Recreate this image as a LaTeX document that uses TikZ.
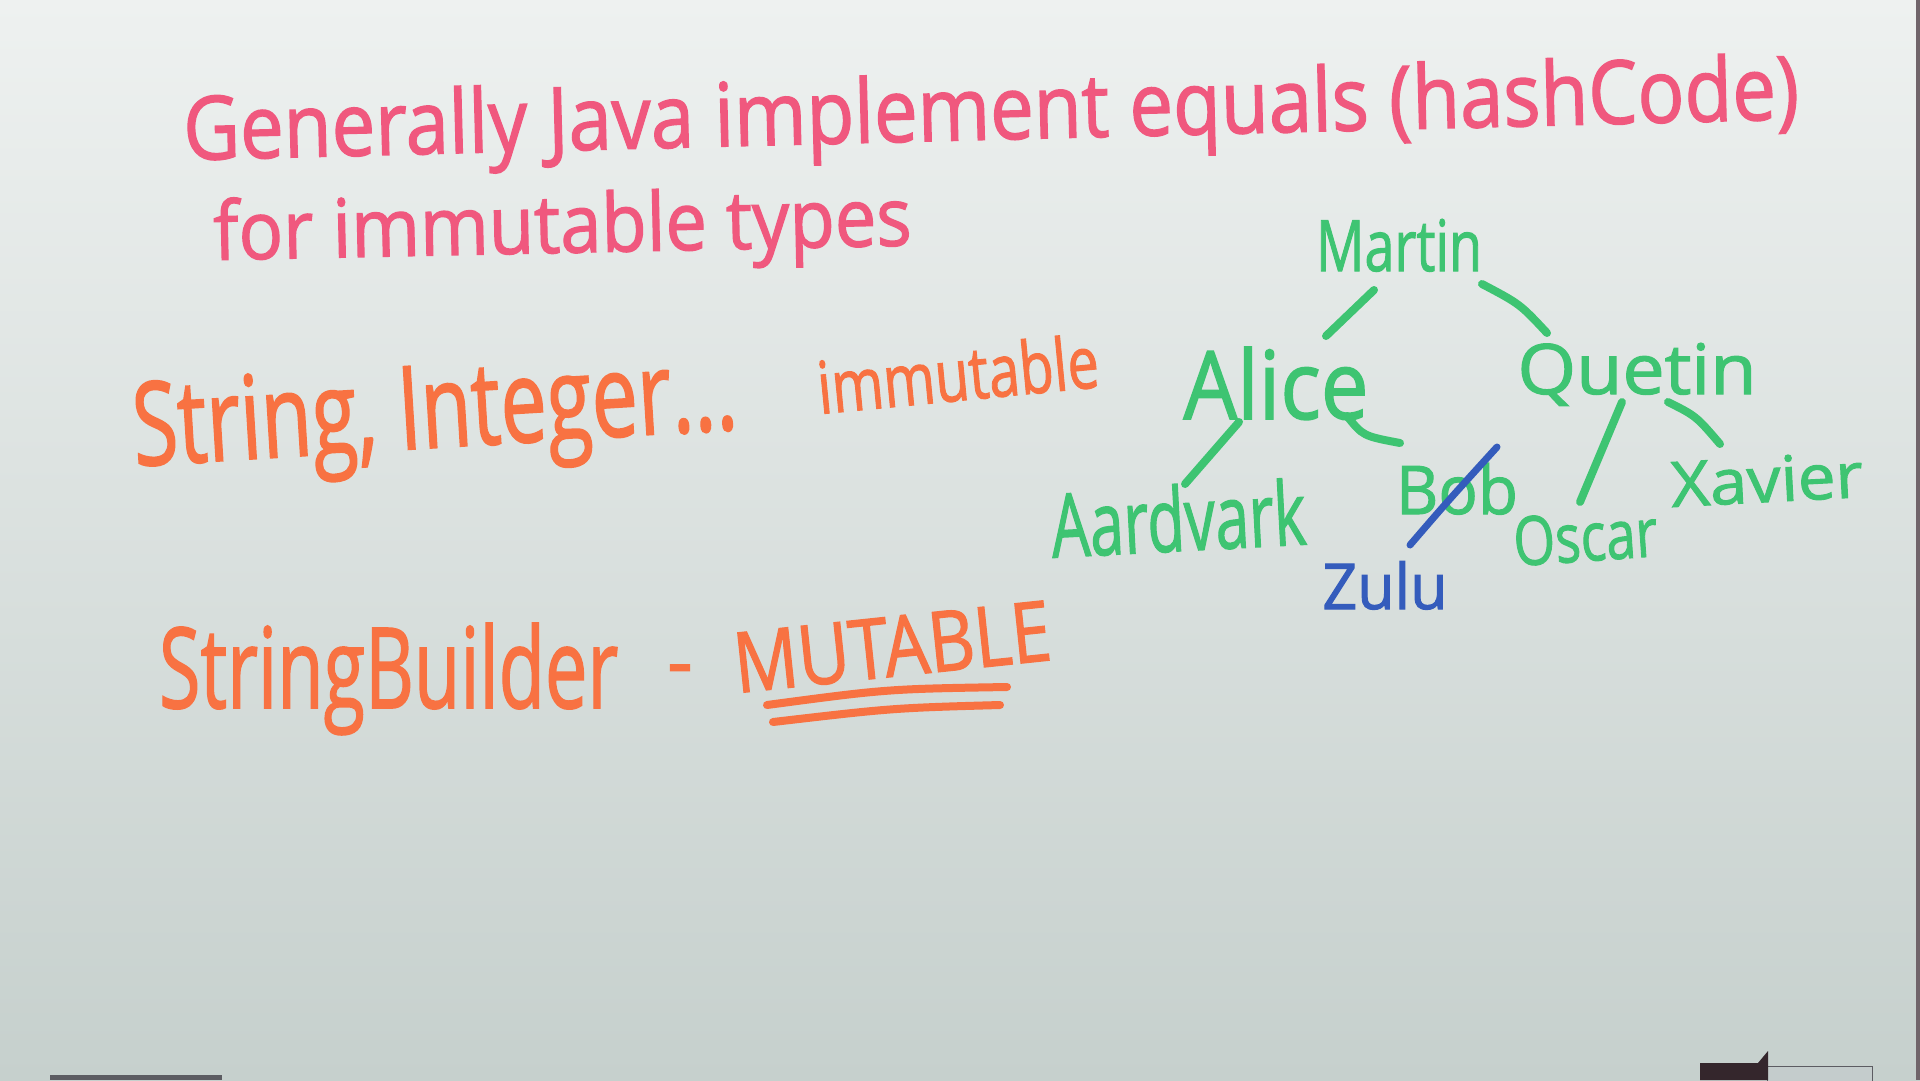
\documentclass[tikz,border=0pt]{standalone}
\usepackage{fontspec}
\setmainfont{Open Sans}
% heavier strokes, like a felt marker
\newfontfamily\marker{Open Sans}[FakeBold=1.6]

% marker ink and board colours
\definecolor{inkpink}{RGB}{240,88,126}
\definecolor{inkorange}{RGB}{248,114,66}
\definecolor{inkgreen}{RGB}{62,196,114}
\definecolor{inkblue}{RGB}{52,92,188}
\definecolor{boardtop}{RGB}{238,241,240}
\definecolor{boardbot}{RGB}{198,208,205}
\definecolor{framecol}{RGB}{112,100,106}
\definecolor{traydark}{RGB}{52,38,44}
\definecolor{traygray}{RGB}{92,92,98}
\definecolor{traylight}{RGB}{196,204,204}

% handwritten word: forced width and height (in pt)
\newcommand{\hand}[3]{\resizebox{#1pt}{#2pt}{\marker #3}}

\begin{document}
\begin{tikzpicture}[x=1pt,y=-1pt,
  txt/.style={inner sep=0pt, outer sep=0pt, anchor=base west},
  treenode/.style={inner sep=0pt, outer sep=0pt, anchor=base, text=inkgreen},
  branch/.style={draw=inkgreen, line width=8pt, line cap=round},
  slash/.style={draw=inkblue, line width=7pt, line cap=round},
  uline/.style={draw=inkorange, line width=8pt, line cap=round}]

\useasboundingbox (0,0) rectangle (1920,1080);

% whiteboard
\shade[top color=boardtop, bottom color=boardbot] (0,0) rectangle (1920,1080);
\fill[framecol] (1916,0) rectangle (1920,1080);

% pens lying on the tray
\fill[traygray] (50,1075) rectangle (222,1080);
\fill[traylight, draw=traygray, line width=1pt] (1767,1066) rectangle (1872,1081);
\fill[traydark] (1700,1063) -- (1758,1063) -- (1768,1051) -- (1768,1080) -- (1700,1080) -- cycle;

% notes
\node[txt, text=inkpink, rotate=1.45] (gen) at (184,160)
  {\hand{1616}{67}{Generally Java implement equals (hashCode)}};
\node[txt, text=inkpink, rotate=1.2] (types) at (214,260)
  {\hand{698}{62}{for immutable types}};
\node[txt, text=inkorange, rotate=3.5] (strint) at (135,466)
  {\hand{605}{85}{String, Integer...}};
\node[txt, text=inkorange, rotate=5.5] (imm) at (820,414)
  {\hand{282}{55}{immutable}};
\node[txt, text=inkorange] (sb) at (159,708)
  {\hand{459}{85}{StringBuilder}};
\node[text=inkorange, inner sep=0pt, font=\marker\fontsize{80}{80}\selectfont] (dash) at (680,677) {-};
\node[txt, text=inkorange, rotate=6] (mut) at (737,693)
  {\hand{318}{60}{MUTABLE}};
\draw[uline] ([shift={(30,12)}]mut.base west) .. controls +(120,-16) .. ([shift={(270,-6)}]mut.base west);
\draw[uline] ([shift={(36,29)}]mut.base west) .. controls +(120,-14) .. ([shift={(263,12)}]mut.base west);

% binary search tree
\node[treenode] (martin) at (1399,271) {\hand{166}{52}{Martin}};
\node[treenode] (alice) at (1276,419) {\hand{185}{72}{Alice}};
\node[treenode] (quetin) at (1637,394) {\hand{239}{51}{Quetin}};
\node[treenode, rotate=3] (aardvark) at (1180,551) {\hand{255}{67}{Aardvark}};
\node[treenode] (bob) at (1457,514) {\hand{122}{51}{Bob}};
\node[treenode, rotate=4] (oscar) at (1587,561) {\hand{144}{49}{Oscar}};
\node[treenode, rotate=3] (xavier) at (1768,502) {\hand{192}{46}{Xavier}};
\node[treenode, text=inkblue] (zulu) at (1385,609) {\hand{125}{48}{Zulu}};

\draw[branch] ([shift={(-25,19)}]martin.base) -- ([shift={(50,-83)}]alice.base);
\draw[branch] ([shift={(83,13)}]martin.base) .. controls +(38,20) .. ([shift={(-90,-61)}]quetin.base);
\draw[branch] ([shift={(-37,3)}]alice.base) -- ([shift={(5,-67)}]aardvark.base);
\draw[branch] ([shift={(71,-3)}]alice.base) .. controls +(16,20) .. ([shift={(-57,-71)}]bob.base);
\draw[branch] ([shift={(-15,8)}]quetin.base) -- ([shift={(-7,-59)}]oscar.base);
\draw[branch] ([shift={(31,8)}]quetin.base) .. controls +(28,14) .. ([shift={(-48,-58)}]xavier.base);
\draw[slash] ([shift={(40,-67)}]bob.base) .. controls +(-50,55) .. ([shift={(25,-64)}]zulu.base);
\end{tikzpicture}
\end{document}
